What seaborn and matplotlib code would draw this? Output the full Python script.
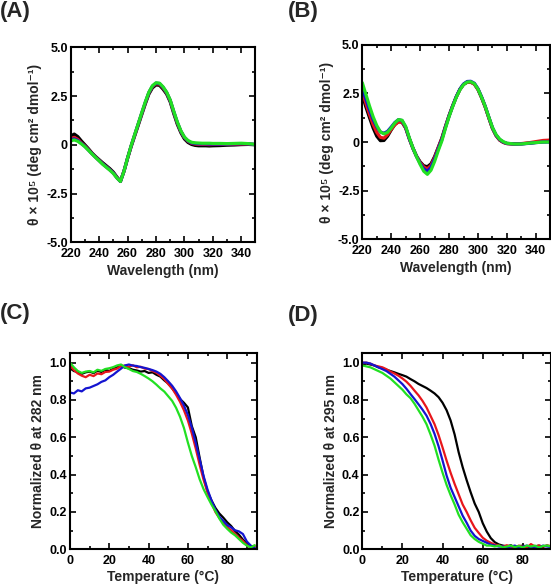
import numpy as np
import pandas as pd
import seaborn as sns
import matplotlib.pyplot as plt
from matplotlib.ticker import MultipleLocator

# wavelength grid (nm) for the CD spectra
wavelength = list(np.arange(220, 320.1, 2.5)) + [325, 330, 335, 340, 345, 350]

# (A) CD spectra
a_black = [0.45, 0.55, 0.42, 0.2, 0.0, -0.2, -0.42, -0.6, -0.76, -0.92,
           -1.07, -1.22, -1.4, -1.65, -1.87, -1.35, -0.7, -0.1, 0.45, 1.0,
           1.55, 2.1, 2.6, 2.92, 3.07, 3.05, 2.85, 2.6, 2.2, 1.6,
           1.05, 0.62, 0.3, 0.12, 0.02, -0.03, -0.05, -0.05, -0.05, -0.06,
           -0.05, -0.04, -0.02, -0.01, 0.01, 0.02, 0.0]
a_red = [0.3, 0.38, 0.28, 0.1, -0.06, -0.25, -0.45, -0.63, -0.8, -0.97,
         -1.12, -1.27, -1.44, -1.68, -1.87, -1.35, -0.69, -0.07, 0.49, 1.05,
         1.6, 2.15, 2.66, 2.98, 3.13, 3.11, 2.92, 2.66, 2.26, 1.67,
         1.12, 0.68, 0.36, 0.18, 0.08, 0.04, 0.02, 0.02, 0.02, 0.01,
         0.02, 0.02, 0.02, 0.03, 0.04, 0.04, 0.01]
a_blue = [0.25, 0.3, 0.22, 0.07, -0.08, -0.27, -0.46, -0.64, -0.81, -0.98,
          -1.13, -1.28, -1.45, -1.69, -1.88, -1.35, -0.68, -0.06, 0.51, 1.07,
          1.63, 2.18, 2.68, 3.01, 3.16, 3.14, 2.95, 2.68, 2.28, 1.7,
          1.15, 0.7, 0.38, 0.2, 0.1, 0.07, 0.05, 0.05, 0.05, 0.04,
          0.04, 0.04, 0.04, 0.05, 0.06, 0.05, 0.02]
a_green = [0.2, 0.25, 0.18, 0.05, -0.1, -0.28, -0.47, -0.65, -0.82, -1.0,
           -1.15, -1.3, -1.47, -1.7, -1.88, -1.35, -0.68, -0.05, 0.52, 1.08,
           1.65, 2.2, 2.7, 3.03, 3.18, 3.16, 2.97, 2.7, 2.3, 1.72,
           1.17, 0.72, 0.4, 0.22, 0.13, 0.1, 0.09, 0.08, 0.08, 0.08,
           0.07, 0.07, 0.06, 0.07, 0.08, 0.06, 0.02]

# (B) CD spectra
b_black = [2.42, 1.8, 1.25, 0.72, 0.3, 0.07, 0.08, 0.3, 0.62, 0.9,
           1.05, 1.02, 0.72, 0.18, -0.3, -0.72, -1.02, -1.22, -1.27, -1.12,
           -0.75, -0.28, 0.2, 0.8, 1.36, 1.86, 2.32, 2.7, 2.96, 3.07,
           3.08, 2.98, 2.7, 2.28, 1.8, 1.24, 0.7, 0.33, 0.1, -0.02,
           -0.08, -0.1, -0.09, -0.06, -0.02, 0.02, 0.03]
b_red = [2.59, 1.98, 1.42, 0.9, 0.5, 0.24, 0.2, 0.38, 0.65, 0.88,
         1.03, 1.02, 0.72, 0.16, -0.33, -0.73, -1.05, -1.28, -1.38, -1.2,
         -0.8, -0.3, 0.17, 0.78, 1.35, 1.86, 2.32, 2.7, 2.96, 3.07,
         3.07, 2.97, 2.7, 2.28, 1.8, 1.24, 0.7, 0.33, 0.1, -0.02,
         -0.08, -0.1, -0.08, -0.04, 0.02, 0.08, 0.1]
b_blue = [2.76, 2.2, 1.65, 1.15, 0.78, 0.52, 0.45, 0.55, 0.77, 1.0,
          1.15, 1.1, 0.76, 0.18, -0.32, -0.74, -1.1, -1.38, -1.5, -1.3,
          -0.88, -0.36, 0.12, 0.75, 1.33, 1.85, 2.33, 2.72, 2.98, 3.11,
          3.12, 3.02, 2.74, 2.32, 1.84, 1.28, 0.74, 0.36, 0.13, 0.0,
          -0.07, -0.1, -0.1, -0.07, -0.03, 0.0, 0.0]
b_green = [3.05, 2.45, 1.85, 1.3, 0.85, 0.52, 0.42, 0.5, 0.72, 0.98,
           1.15, 1.12, 0.8, 0.22, -0.3, -0.75, -1.15, -1.5, -1.66, -1.45,
           -1.0, -0.45, 0.05, 0.7, 1.3, 1.82, 2.3, 2.68, 2.95, 3.08,
           3.1, 3.0, 2.72, 2.3, 1.83, 1.28, 0.75, 0.38, 0.15, 0.02,
           -0.06, -0.1, -0.1, -0.06, -0.03, 0.0, 0.0]

# temperature grid (C) for the melting curves
temperature = list(range(0, 95, 2))

# (C) normalized theta at 282 nm
c_black = [0.97, 0.955, 0.95, 0.94, 0.948, 0.952, 0.944, 0.957, 0.95, 0.962,
           0.955, 0.967, 0.975, 0.982, 0.973, 0.97, 0.962, 0.958, 0.952, 0.955,
           0.945, 0.948, 0.935, 0.925, 0.905, 0.888, 0.862, 0.835, 0.805, 0.785,
           0.76, 0.66, 0.6, 0.49, 0.385, 0.31, 0.262, 0.222, 0.192, 0.17,
           0.145, 0.125, 0.098, 0.078, 0.052, 0.032, 0.018, 0.012]
c_red = [0.985, 0.96, 0.942, 0.93, 0.922, 0.935, 0.928, 0.942, 0.938, 0.95,
         0.952, 0.962, 0.968, 0.982, 0.984, 0.978, 0.986, 0.975, 0.978, 0.968,
         0.966, 0.955, 0.946, 0.93, 0.912, 0.885, 0.862, 0.828, 0.79, 0.745,
         0.69, 0.62, 0.54, 0.452, 0.372, 0.305, 0.25, 0.2, 0.168, 0.142,
         0.12, 0.102, 0.082, 0.062, 0.045, 0.022, 0.008, 0.02]
c_blue = [0.84, 0.835, 0.852, 0.846, 0.862, 0.866, 0.875, 0.884, 0.897, 0.905,
          0.922, 0.935, 0.952, 0.968, 0.985, 0.99, 0.984, 0.982, 0.976, 0.972,
          0.966, 0.96, 0.952, 0.94, 0.922, 0.9, 0.876, 0.846, 0.81, 0.77,
          0.72, 0.652, 0.57, 0.482, 0.392, 0.32, 0.262, 0.212, 0.175, 0.152,
          0.13, 0.118, 0.102, 0.096, 0.082, 0.042, 0.02, 0.005]
c_green = [1.0, 0.975, 0.955, 0.945, 0.952, 0.955, 0.948, 0.962, 0.956, 0.966,
           0.97, 0.976, 0.985, 0.99, 0.975, 0.966, 0.955, 0.95, 0.94, 0.928,
           0.915, 0.9, 0.882, 0.862, 0.845, 0.82, 0.795, 0.758, 0.71, 0.65,
           0.572, 0.5, 0.44, 0.375, 0.322, 0.28, 0.24, 0.205, 0.165, 0.132,
           0.11, 0.09, 0.075, 0.055, 0.035, 0.02, 0.01, 0.022]

# (D) normalized theta at 295 nm
d_black = [0.99, 0.995, 0.99, 0.985, 0.975, 0.97, 0.962, 0.955, 0.948, 0.94,
           0.933, 0.925, 0.912, 0.9, 0.886, 0.875, 0.864, 0.85, 0.835, 0.815,
           0.785, 0.745, 0.69, 0.615, 0.52, 0.44, 0.37, 0.305, 0.245, 0.2,
           0.14, 0.095, 0.06, 0.038, 0.026, 0.02, 0.015, 0.022, 0.01, 0.016,
           0.02, 0.014, 0.01, 0.016, 0.02, 0.014, 0.02, 0.015]
d_red = [1.0, 1.0, 0.995, 0.985, 0.98, 0.975, 0.965, 0.952, 0.942, 0.93,
         0.915, 0.898, 0.876, 0.85, 0.825, 0.795, 0.76, 0.715, 0.67, 0.612,
         0.545, 0.475, 0.41, 0.35, 0.295, 0.24, 0.2, 0.155, 0.115, 0.088,
         0.062, 0.046, 0.035, 0.025, 0.02, 0.015, 0.022, 0.015, 0.01, 0.02,
         0.015, 0.01, 0.028, 0.015, 0.02, 0.015, 0.02, 0.018]
d_blue = [1.0, 1.0, 0.995, 0.985, 0.975, 0.965, 0.955, 0.94, 0.925, 0.905,
          0.885, 0.86, 0.832, 0.805, 0.777, 0.748, 0.716, 0.672, 0.618, 0.552,
          0.475, 0.395, 0.33, 0.28, 0.23, 0.18, 0.142, 0.1, 0.072, 0.055,
          0.045, 0.035, 0.025, 0.02, 0.015, 0.015, 0.01, 0.015, 0.02, 0.01,
          0.015, 0.02, 0.01, 0.015, 0.01, 0.02, 0.015, 0.012]
d_green = [0.985, 0.98, 0.975, 0.965, 0.955, 0.945, 0.93, 0.915, 0.895, 0.875,
           0.855, 0.83, 0.81, 0.78, 0.745, 0.71, 0.67, 0.615, 0.555, 0.48,
           0.41, 0.345, 0.29, 0.24, 0.185, 0.145, 0.11, 0.075, 0.055, 0.04,
           0.03, 0.02, 0.02, 0.015, 0.02, 0.01, 0.015, 0.02, 0.012, 0.018,
           0.01, 0.02, 0.015, 0.02, 0.01, 0.018, 0.02, 0.015]

colors = ['#000000', '#e8161b', '#1414d0', '#22e022']

sns.set_style("ticks")
plt.rcParams['font.family'] = ['Liberation Sans', 'DejaVu Sans']
plt.rcParams['font.weight'] = 'bold'
plt.rcParams['axes.labelweight'] = 'bold'

fig = plt.figure(figsize=(5.51, 5.86), dpi=100)
axA = fig.add_axes([0.1283, 0.5865, 0.3354, 0.3328])
axB = fig.add_axes([0.6575, 0.5916, 0.3412, 0.3321])
axC = fig.add_axes([0.1270, 0.0626, 0.3388, 0.3345])
axD = fig.add_axes([0.6575, 0.0626, 0.3425, 0.3345])

spec_label = 'θ × 10⁵ (deg cm² dmol⁻¹)'


def style_axes(ax):
    for s in ax.spines.values():
        s.set_linewidth(1.5)
        s.set_color('black')
    ax.tick_params(which='both', direction='in', top=True, right=True,
                   width=1.2, labelsize=9, colors='black')
    ax.tick_params(axis='y', pad=2)
    ax.tick_params(axis='x', pad=4)
    ax.tick_params(which='major', length=4)
    ax.tick_params(which='minor', length=2.5)
    for lab in ax.get_xticklabels() + ax.get_yticklabels():
        lab.set_fontweight('bold')


# spectra
for ax, series in [(axA, [a_black, a_red, a_blue, a_green]),
                   (axB, [b_black, b_red, b_blue, b_green])]:
    for vals, col in zip(series, colors):
        sns.lineplot(x=wavelength, y=vals, color=col, lw=2.3, ax=ax,
                     estimator=None, legend=False)
    ax.set_xlim(220, 350)
    ax.set_ylim(-5, 5)
    ax.set_xticks([220, 240, 260, 280, 300, 320, 340])
    ax.xaxis.set_minor_locator(MultipleLocator(10))
    ax.set_yticks([-5, -2.5, 0, 2.5, 5], ['-5.0', '-2.5', '0', '2.5', '5.0'])
    ax.yaxis.set_minor_locator(MultipleLocator(1.25))
    ax.set_xlabel('Wavelength (nm)', fontsize=10, labelpad=3)
    ax.set_ylabel(spec_label, fontsize=10, labelpad=3)
    style_axes(ax)

# melting curves
for ax, series, lab in [(axC, [c_black, c_red, c_blue, c_green], 'Normalized θ at 282 nm'),
                        (axD, [d_black, d_red, d_blue, d_green], 'Normalized θ at 295 nm')]:
    for vals, col in zip(series, colors):
        sns.lineplot(x=temperature, y=vals, color=col, lw=1.6, ax=ax,
                     estimator=None, legend=False)
    ax.set_ylim(0, 1.05)
    ax.set_xticks([0, 20, 40, 60, 80])
    ax.xaxis.set_minor_locator(MultipleLocator(10))
    ax.set_yticks([0, 0.2, 0.4, 0.6, 0.8, 1.0], ['0.0', '0.2', '0.4', '0.6', '0.8', '1.0'])
    ax.yaxis.set_minor_locator(MultipleLocator(0.1))
    ax.set_xlabel('Temperature (°C)', fontsize=10, labelpad=2)
    ax.set_ylabel(lab, fontsize=10, labelpad=3)
    style_axes(ax)
axC.set_xlim(0, 95)
axD.set_xlim(0, 94)

for x, y, t in [(0.0, 0.999, '(A)'), (0.522, 0.999, '(B)'),
                (0.0, 0.483, '(C)'), (0.522, 0.480, '(D)')]:
    fig.text(x, y, t, fontsize=16, fontweight='bold', ha='left', va='top')

fig.savefig('out.png', dpi=100)
